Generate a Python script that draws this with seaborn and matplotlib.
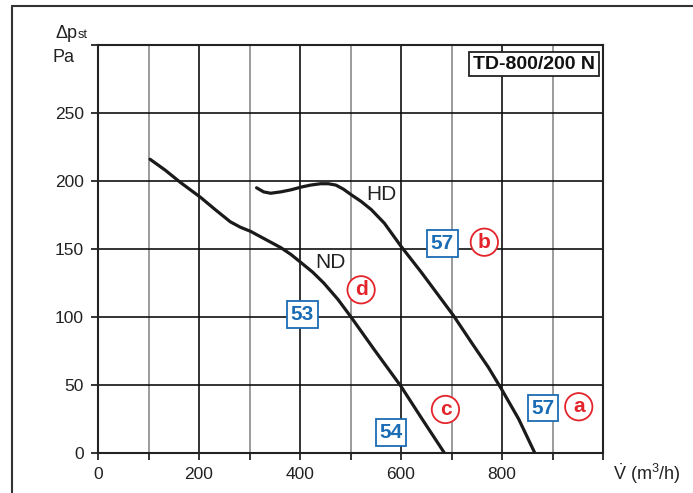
import matplotlib
matplotlib.use("Agg")
import matplotlib.pyplot as plt
import seaborn as sns
import pandas as pd
from matplotlib.lines import Line2D

# ---- data ----
hd_flow = [314, 328, 342, 362, 382, 402, 421, 441, 456, 471, 486, 501, 521, 541, 567, 600, 640, 680, 704, 740, 773, 799, 833, 865]
hd_pres = [195, 192, 191, 192, 193.5, 195.5, 197, 198, 198, 197, 194, 190, 185, 179, 169, 152, 133, 113, 101, 81, 63, 47, 25, 0]
nd_flow = [103, 133, 163, 183, 203, 232, 262, 282, 302, 332, 362, 382, 402, 425, 447, 475, 501, 547, 600, 640, 686]
nd_pres = [216, 208, 199, 193.5, 188, 179, 170, 166, 163, 157, 151, 146, 140, 133, 125, 113, 100, 76, 49, 26, 0]

x_ticks = [0, 100, 200, 300, 400, 500, 600, 700, 800, 900, 1000]
x_labels = ["0", "", "200", "", "400", "", "600", "", "800", "", ""]
y_ticks = [0, 50, 100, 150, 200, 250, 300]
y_labels = ["0", "50", "100", "150", "200", "250", ""]

box_labels = ["57", "53", "54", "57"]
box_x = [682, 405, 580, 881]
box_y = [154, 102, 15, 33]
circ_labels = ["b", "d", "c", "a"]
circ_x = [765, 521, 688, 952]
circ_y = [155, 120, 32, 34]
curve_names = ["HD", "ND"]
curve_lx = [561, 461]
curve_ly = [190, 140]
title_text = "TD-800/200 N"

df = pd.concat([
    pd.DataFrame({"flow": hd_flow, "pres": hd_pres, "curve": "HD"}),
    pd.DataFrame({"flow": nd_flow, "pres": nd_pres, "curve": "ND"}),
])

sns.set_theme(style="white")
plt.rcParams["font.family"] = ["Liberation Sans", "DejaVu Sans"]
plt.rcParams["mathtext.fontset"] = "custom"
plt.rcParams["mathtext.rm"] = "Liberation Sans"
plt.rcParams["mathtext.it"] = "Liberation Sans"

fig = plt.figure(figsize=(6.93, 4.93), dpi=100)
ax = fig.add_axes([98/693, 40/493, 505/693, 408/493])

BLUE = "#1a6cb5"
RED = "#e3242b"

ax.set_xlim(0, 1000)
ax.set_ylim(0, 300)
for xv in x_ticks[1:-1]:
    ax.axvline(xv, color="#111111" if xv % 200 == 0 else "#8a8a8a", lw=1.2, zorder=1)
for yv in y_ticks[1:-1]:
    ax.axhline(yv, color="#111111", lw=1.2, zorder=1)

sns.lineplot(data=df, x="flow", y="pres", units="curve", estimator=None, sort=False,
             color="#1a1a1a", lw=2.3, ax=ax, zorder=3, legend=False)
for ln in ax.lines:
    ln.set_solid_joinstyle("round")
    ln.set_solid_capstyle("round")

ax.set_xticks(x_ticks)
ax.set_xticklabels(x_labels)
ax.set_yticks(y_ticks)
ax.set_yticklabels(y_labels)
ax.tick_params(axis="both", direction="out", length=5, width=1.2, color="#111111",
               labelsize=12.5, labelcolor="#222222", pad=5, bottom=True, left=True)
ax.set_xlabel("")
ax.set_ylabel("")
for s in ax.spines.values():
    s.set_color("#222222")
    s.set_linewidth(1.5)

for t, x, y in zip(box_labels, box_x, box_y):
    ax.text(x, y, t, color=BLUE, fontsize=15, fontweight="bold", ha="center", va="center", zorder=5,
            bbox=dict(boxstyle="square,pad=0.18", fc="white", ec=BLUE, lw=1.3))
for t, x, y in zip(circ_labels, circ_x, circ_y):
    ax.text(x, y, t, color=RED, fontsize=15, fontweight="bold", ha="center", va="center", zorder=5,
            bbox=dict(boxstyle="circle,pad=0.2", fc="white", ec=RED, lw=1.3))
for t, x, y in zip(curve_names, curve_lx, curve_ly):
    ax.text(x, y, t, color="#222222", fontsize=15, ha="center", va="center", zorder=5)

ax.text(863, 286, title_text, fontsize=14, fontweight="bold", ha="center", va="center", zorder=5,
        color="#111111", bbox=dict(boxstyle="square,pad=0.2", fc="white", ec="#222222", lw=1.3))

# axis titles
fig.text(55/693, 1 - 33/493, "Δp", fontsize=13, ha="left", va="center", color="#222222")
fig.text(78/693, 1 - 35/493, "st", fontsize=9, ha="left", va="center", color="#222222")
fig.text(53/693, 1 - 57/493, "Pa", fontsize=13, ha="left", va="center", color="#222222")
fig.text(613/693, 1 - 474/493, r"$\dot{\mathrm{V}}$ (m$^{3}$/h)", fontsize=13, ha="left",
         va="center", color="#222222")

# outer frame (top and left edges)
fig.add_artist(Line2D([12/693, 12/693], [0, 1 - 6/493], transform=fig.transFigure,
                      color="#333333", lw=1.5))
fig.add_artist(Line2D([12/693, 1], [1 - 6/493, 1 - 6/493], transform=fig.transFigure,
                      color="#333333", lw=1.5))

fig.savefig("out.png", dpi=100)
